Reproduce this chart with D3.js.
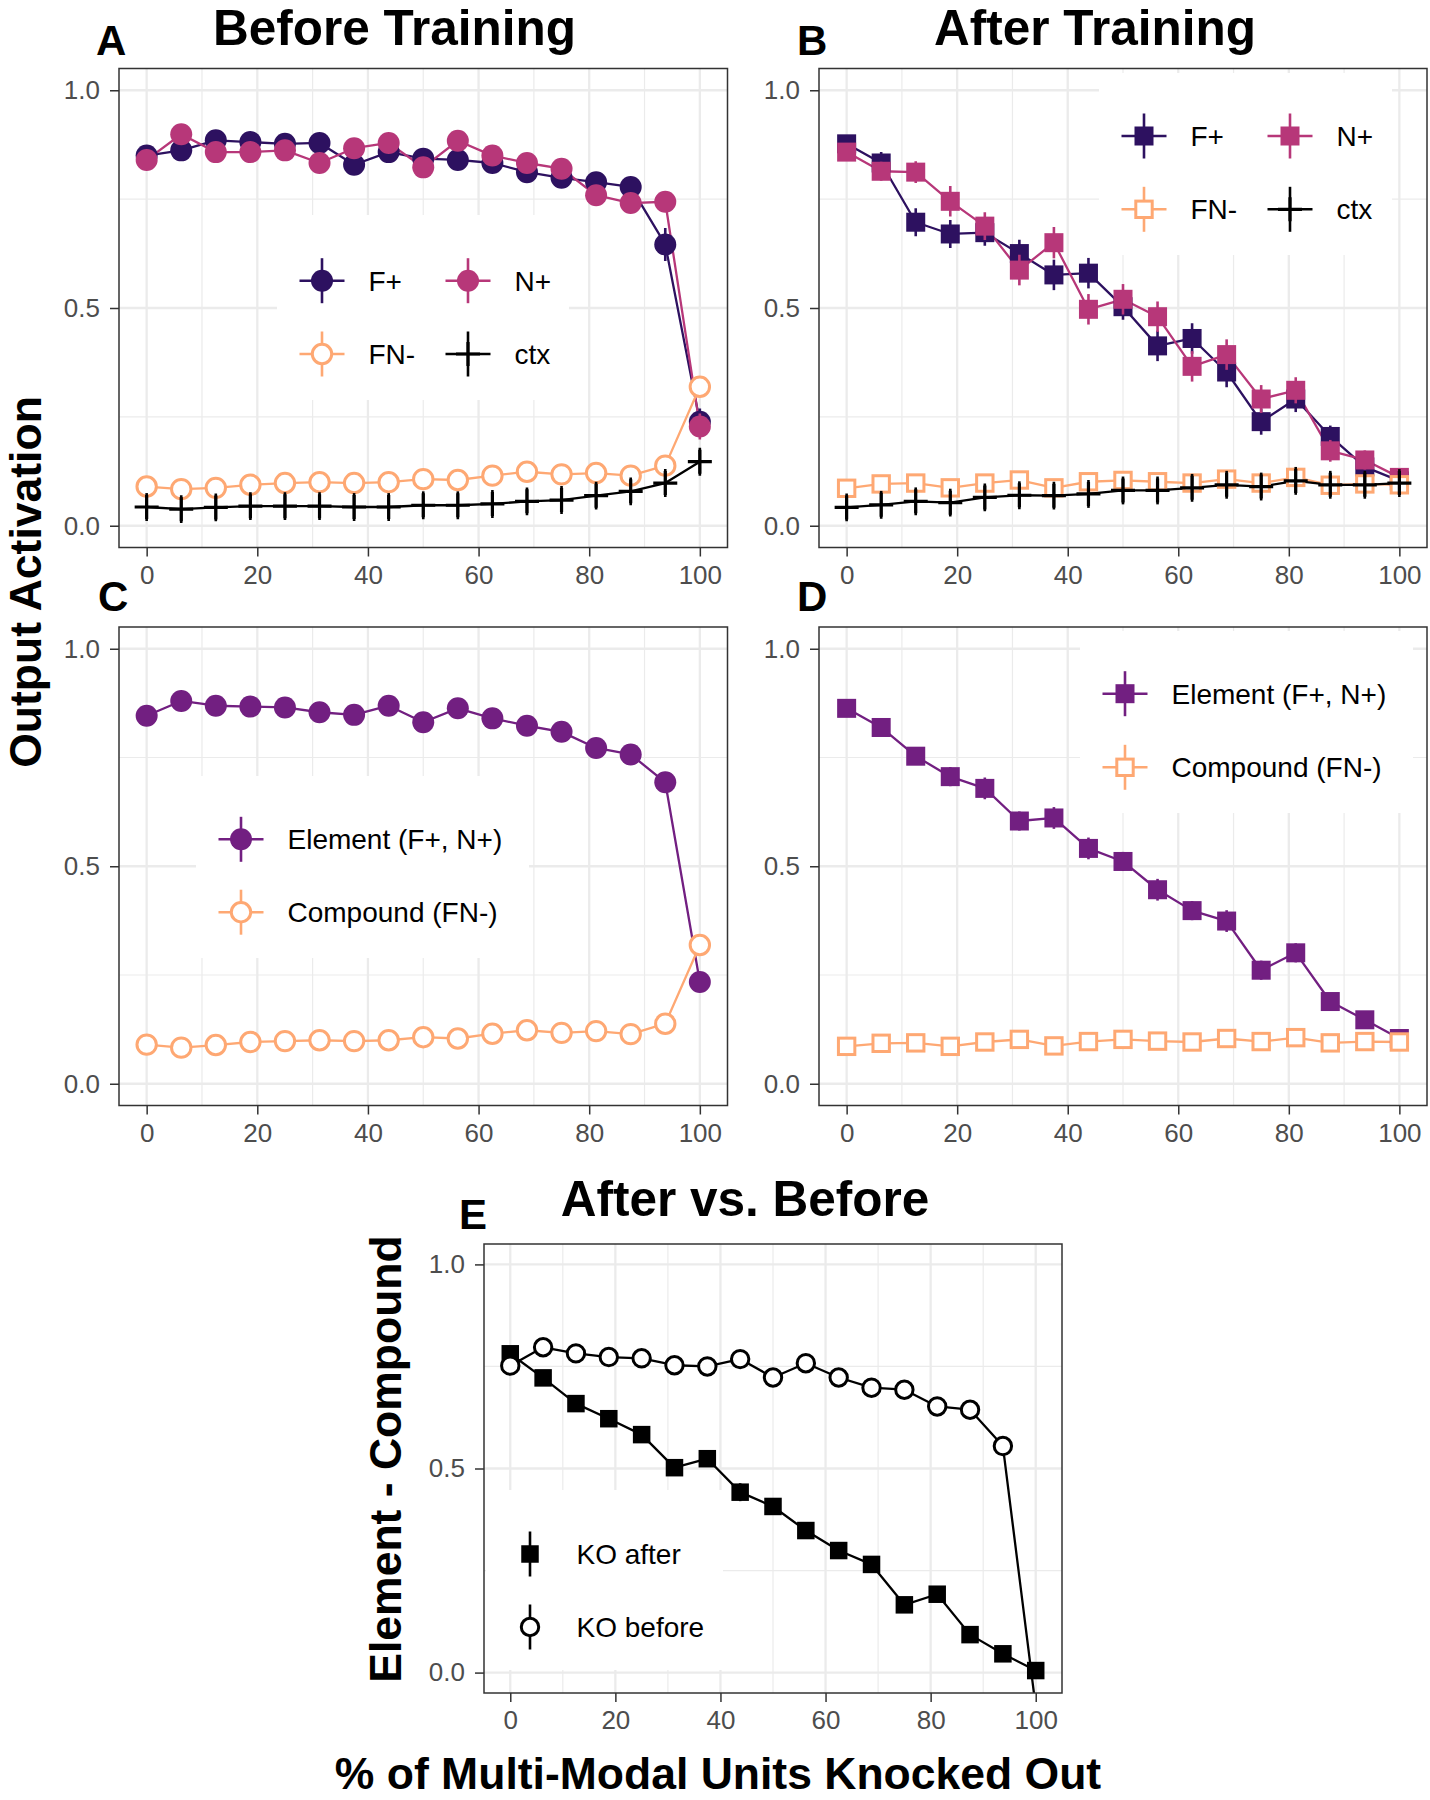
<!DOCTYPE html>
<html><head><meta charset="utf-8">
<script src="https://cdn.jsdelivr.net/npm/d3@7"></script>
<style>
html,body{margin:0;padding:0;background:#fff;}
svg{display:block;}
</style></head><body>
<svg id="chart" width="1430" height="1800"></svg>
<script>
// ---------- DATA ----------
const knockedOut = [0,6.25,12.5,18.75,25,31.25,37.5,43.75,50,56.25,62.5,68.75,75,81.25,87.5,93.75,100];
const xTicks = [0,20,40,60,80,100];
const yTicks = [0,0.5,1];
const yTickLabels = ["0.0","0.5","1.0"];

// Panel A: Before Training
const beforeF   = [0.850,0.862,0.885,0.881,0.877,0.879,0.829,0.858,0.843,0.840,0.833,0.812,0.799,0.789,0.778,0.646,0.239];
const beforeN   = [0.840,0.899,0.858,0.858,0.862,0.833,0.867,0.879,0.823,0.884,0.850,0.833,0.820,0.759,0.741,0.744,0.228];
const beforeFN  = [0.090,0.084,0.087,0.094,0.098,0.100,0.098,0.100,0.107,0.105,0.115,0.124,0.118,0.121,0.115,0.138,0.319];
const beforeCtx = [0.043,0.038,0.042,0.045,0.045,0.045,0.043,0.043,0.047,0.047,0.050,0.056,0.059,0.069,0.079,0.098,0.147];
const seBeforeF   = [0.015,0.015,0.014,0.014,0.015,0.015,0.016,0.015,0.016,0.016,0.017,0.018,0.018,0.020,0.020,0.038,0.030];
const seBeforeN   = [0.015,0.014,0.015,0.015,0.015,0.016,0.015,0.015,0.016,0.015,0.016,0.017,0.018,0.020,0.021,0.022,0.030];
const seBeforeFN  = [0.008,0.008,0.008,0.008,0.008,0.008,0.008,0.008,0.009,0.009,0.009,0.010,0.010,0.010,0.010,0.012,0.020];
const seBeforeCtx = [0.032,0.032,0.032,0.032,0.032,0.032,0.032,0.032,0.032,0.032,0.032,0.032,0.032,0.032,0.032,0.032,0.032];

// Panel B: After Training
const afterF   = [0.877,0.833,0.697,0.670,0.673,0.625,0.576,0.580,0.503,0.413,0.430,0.353,0.239,0.291,0.205,0.135,0.103];
const afterN   = [0.858,0.814,0.812,0.745,0.688,0.587,0.650,0.497,0.520,0.480,0.366,0.393,0.291,0.311,0.172,0.151,0.111];
const afterFN  = [0.086,0.096,0.098,0.087,0.098,0.105,0.087,0.101,0.104,0.101,0.098,0.107,0.098,0.111,0.093,0.096,0.094];
const afterCtx = [0.042,0.048,0.056,0.053,0.065,0.070,0.069,0.073,0.081,0.081,0.087,0.094,0.090,0.103,0.094,0.094,0.098];
const seAfterF   = [0.020,0.025,0.032,0.032,0.030,0.032,0.035,0.035,0.030,0.035,0.035,0.035,0.030,0.030,0.025,0.022,0.018];
const seAfterN   = [0.020,0.022,0.025,0.035,0.032,0.035,0.036,0.035,0.035,0.035,0.035,0.035,0.032,0.030,0.025,0.022,0.018];
const seAfterFN  = [0.010,0.010,0.010,0.010,0.010,0.010,0.010,0.010,0.010,0.010,0.010,0.010,0.010,0.010,0.010,0.010,0.010];
const seAfterCtx = [0.032,0.032,0.032,0.032,0.032,0.032,0.032,0.032,0.032,0.032,0.032,0.032,0.032,0.032,0.032,0.032,0.032];

// Panel C: Before Training, element vs compound
const elementBefore  = [0.846,0.880,0.869,0.867,0.865,0.854,0.848,0.869,0.831,0.863,0.840,0.823,0.809,0.772,0.757,0.693,0.234];
const compoundBefore = [0.090,0.083,0.089,0.096,0.098,0.100,0.098,0.100,0.107,0.104,0.115,0.123,0.117,0.121,0.114,0.138,0.319];
const seElementBefore  = [0.012,0.012,0.012,0.012,0.012,0.012,0.012,0.012,0.012,0.012,0.013,0.013,0.014,0.015,0.015,0.020,0.020];
const seCompoundBefore = [0.008,0.008,0.008,0.008,0.008,0.008,0.008,0.008,0.009,0.009,0.009,0.010,0.010,0.010,0.010,0.012,0.020];

// Panel D: After Training, element vs compound
const elementAfter  = [0.863,0.819,0.753,0.706,0.679,0.604,0.611,0.541,0.511,0.446,0.398,0.374,0.261,0.301,0.189,0.147,0.104];
const compoundAfter = [0.086,0.093,0.094,0.086,0.096,0.102,0.087,0.097,0.102,0.098,0.096,0.104,0.097,0.106,0.094,0.097,0.096];
const seElementAfter  = [0.015,0.018,0.020,0.022,0.025,0.022,0.025,0.025,0.022,0.025,0.022,0.025,0.022,0.022,0.018,0.015,0.012];
const seCompoundAfter = [0.008,0.008,0.008,0.008,0.008,0.008,0.008,0.008,0.008,0.008,0.008,0.008,0.008,0.008,0.008,0.008,0.008];

// Panel E: Element - Compound
const koAfter  = [0.781,0.722,0.659,0.622,0.583,0.502,0.524,0.442,0.407,0.348,0.299,0.265,0.166,0.192,0.093,0.046,0.005];
const koBefore = [0.752,0.797,0.782,0.773,0.770,0.753,0.750,0.768,0.723,0.758,0.723,0.698,0.693,0.652,0.644,0.555,-0.085];
const seKoAfter  = [0.015,0.015,0.015,0.015,0.018,0.015,0.018,0.022,0.018,0.018,0.015,0.015,0.015,0.015,0.012,0.012,0.010];
const seKoBefore = [0.012,0.012,0.012,0.012,0.012,0.012,0.012,0.012,0.012,0.012,0.012,0.012,0.012,0.012,0.012,0.015,0.020];

// ---------- STYLE / LAYOUT ----------
const FONT = '"Liberation Sans", Arial, Helvetica, sans-serif';
const C_F = "#2d1160", C_N = "#b73779", C_FN = "#fea873", C_CTX = "#000000", C_EL = "#721f81", C_BLK = "#000000";

const panels = [
  { id:"A", left:119, right:727.5, top:68.5, bottom:547.5, letter:"A", lx:96, ly:55,
    legend:{ box:[277,215,292,185], cols:[322,468], rows:[280.7,354], hline:true },
    series:[
      {name:"F+",  v:beforeF,  se:seBeforeF,  color:C_F,  shape:"circle", open:false},
      {name:"N+",  v:beforeN,  se:seBeforeN,  color:C_N,  shape:"circle", open:false},
      {name:"FN-", v:beforeFN, se:seBeforeFN, color:C_FN, shape:"circle", open:true},
      {name:"ctx", v:beforeCtx,se:seBeforeCtx,color:C_CTX,shape:"plus",   open:false}
    ], layout:"grid" },
  { id:"B", left:819, right:1427, top:68.5, bottom:547.5, letter:"B", lx:797, ly:55,
    legend:{ box:[1099,73,293,182], cols:[1144,1290], rows:[136,209.3], hline:true },
    series:[
      {name:"F+",  v:afterF,  se:seAfterF,  color:C_F,  shape:"square", open:false},
      {name:"N+",  v:afterN,  se:seAfterN,  color:C_N,  shape:"square", open:false},
      {name:"FN-", v:afterFN, se:seAfterFN, color:C_FN, shape:"square", open:true},
      {name:"ctx", v:afterCtx,se:seAfterCtx,color:C_CTX,shape:"plus",   open:false}
    ], layout:"grid" },
  { id:"C", left:119, right:727.5, top:627, bottom:1105.5, letter:"C", lx:98, ly:611,
    legend:{ box:[196,776,333,182], cols:[241], rows:[839.3,912.2], hline:true },
    series:[
      {name:"Element (F+, N+)", v:elementBefore,  se:seElementBefore,  color:C_EL, shape:"circle", open:false},
      {name:"Compound (FN-)",   v:compoundBefore, se:seCompoundBefore, color:C_FN, shape:"circle", open:true}
    ], layout:"col" },
  { id:"D", left:819, right:1427, top:627, bottom:1105.5, letter:"D", lx:797, ly:611,
    legend:{ box:[1080,631,333,182], cols:[1125], rows:[693.7,767.3], hline:true },
    series:[
      {name:"Element (F+, N+)", v:elementAfter,  se:seElementAfter,  color:C_EL, shape:"square", open:false},
      {name:"Compound (FN-)",   v:compoundAfter, se:seCompoundAfter, color:C_FN, shape:"square", open:true}
    ], layout:"col" },
  { id:"E", left:484, right:1062, top:1244, bottom:1693, letter:"E", lx:459, ly:1229, small:true,
    legend:{ box:[486,1490,237,180], cols:[530], rows:[1554,1627], hline:false },
    series:[
      {name:"KO after",  v:koAfter,  se:seKoAfter,  color:C_BLK, shape:"square", open:false},
      {name:"KO before", v:koBefore, se:seKoBefore, color:C_BLK, shape:"circle", open:true}
    ], layout:"col" }
];

const svg = d3.select("#chart");
svg.append("rect").attr("width",1430).attr("height",1800).attr("fill","#fff");

function drawMarker(sel, s, small) {
  const r = small ? 10 : 11;
  const sq = small ? 17.5 : 19;
  if (s.shape === "circle") {
    if (s.open) {
      sel.append("circle").attr("r", r - 1.3).attr("fill","#fff").attr("stroke", s.color).attr("stroke-width", 3);
    } else {
      sel.append("circle").attr("r", r).attr("fill", s.color);
    }
  } else if (s.shape === "square") {
    if (s.open) {
      const a = sq - 2.6;
      sel.append("rect").attr("x",-a/2).attr("y",-a/2).attr("width",a).attr("height",a)
        .attr("fill","#fff").attr("stroke", s.color).attr("stroke-width", 3);
    } else {
      sel.append("rect").attr("x",-sq/2).attr("y",-sq/2).attr("width",sq).attr("height",sq).attr("fill", s.color);
    }
  } else if (s.shape === "plus") {
    sel.append("path").attr("d","M-12,0H12M0,-12V12").attr("stroke", s.color).attr("stroke-width", 3.2).attr("fill","none");
  }
}

panels.forEach(p => {
  const x = d3.scaleLinear().domain([-5,105]).range([p.left, p.right]);
  const y = d3.scaleLinear().domain([-0.05,1.05]).range([p.bottom, p.top]);
  const g = svg.append("g");

  // grid
  const minorX = [10,30,50,70,90], minorY = [0.25,0.75];
  const grid = g.append("g");
  grid.selectAll(".mx").data(minorX).join("line")
    .attr("x1",d=>x(d)).attr("x2",d=>x(d)).attr("y1",p.top).attr("y2",p.bottom)
    .attr("stroke","#ebebeb").attr("stroke-width",1.2);
  grid.selectAll(".my").data(minorY).join("line")
    .attr("y1",d=>y(d)).attr("y2",d=>y(d)).attr("x1",p.left).attr("x2",p.right)
    .attr("stroke","#ebebeb").attr("stroke-width",1.2);
  grid.selectAll(".Mx").data(xTicks).join("line")
    .attr("x1",d=>x(d)).attr("x2",d=>x(d)).attr("y1",p.top).attr("y2",p.bottom)
    .attr("stroke","#ebebeb").attr("stroke-width",2.3);
  grid.selectAll(".My").data(yTicks).join("line")
    .attr("y1",d=>y(d)).attr("y2",d=>y(d)).attr("x1",p.left).attr("x2",p.right)
    .attr("stroke","#ebebeb").attr("stroke-width",2.3);

  // legend background (covers grid)
  const lb = p.legend.box;
  g.append("rect").attr("x",lb[0]).attr("y",lb[1]).attr("width",lb[2]).attr("height",lb[3]).attr("fill","#fff");

  // data
  const clipId = "clip" + p.id;
  svg.append("clipPath").attr("id", clipId).append("rect")
    .attr("x",p.left).attr("y",p.top).attr("width",p.right-p.left).attr("height",p.bottom-p.top);
  const dg = g.append("g").attr("clip-path",`url(#${clipId})`);
  const line = d3.line().x((d,i)=>x(knockedOut[i])).y(d=>y(d));
  p.series.forEach(s => {
    dg.append("path").datum(s.v).attr("d", line).attr("fill","none")
      .attr("stroke", s.color).attr("stroke-width", 2.3).attr("stroke-linejoin","round");
  });
  p.series.forEach(s => {
    const pts = dg.append("g").selectAll("g").data(s.v).join("g")
      .attr("transform",(d,i)=>`translate(${x(knockedOut[i])},${y(d)})`);
    pts.append("line").attr("x1",0).attr("x2",0)
      .attr("y1",(d,i)=>y(d - s.se[i]) - y(d)).attr("y2",(d,i)=>y(d + s.se[i]) - y(d))
      .attr("stroke", s.color).attr("stroke-width", 2.6);
    pts.each(function(){ drawMarker(d3.select(this), s, p.small); });
  });

  // border
  g.append("rect").attr("x",p.left).attr("y",p.top).attr("width",p.right-p.left).attr("height",p.bottom-p.top)
    .attr("fill","none").attr("stroke","#333333").attr("stroke-width",1.5);

  // axes
  const ax = g.append("g").attr("transform",`translate(0,${p.bottom})`)
    .call(d3.axisBottom(x).tickValues(xTicks).tickSize(9).tickPadding(9).tickFormat(d3.format("d")));
  const ay = g.append("g").attr("transform",`translate(${p.left},0)`)
    .call(d3.axisLeft(y).tickValues(yTicks).tickSize(9).tickPadding(10).tickFormat((d,i)=>yTickLabels[i]));
  [ax, ay].forEach(a => {
    a.select(".domain").remove();
    a.selectAll(".tick line").attr("stroke","#333333").attr("stroke-width",1.5);
    a.selectAll(".tick text").attr("fill","#4d4d4d").attr("font-size",26).attr("font-family",FONT);
  });

  // legend items
  p.series.forEach((s,i) => {
    let cx, cy;
    if (p.layout === "grid") { cx = p.legend.cols[i % 2]; cy = p.legend.rows[Math.floor(i/2)]; }
    else { cx = p.legend.cols[0]; cy = p.legend.rows[i]; }
    const k = g.append("g").attr("transform",`translate(${cx},${cy})`);
    if (p.legend.hline) k.append("line").attr("x1",-22.5).attr("x2",22.5).attr("y1",0).attr("y2",0)
      .attr("stroke", s.color).attr("stroke-width", 2.6);
    k.append("line").attr("x1",0).attr("x2",0).attr("y1",-22.5).attr("y2",22.5)
      .attr("stroke", s.color).attr("stroke-width", 2.6);
    drawMarker(k, s, p.small);
    g.append("text").attr("x", cx + 46.5).attr("y", cy).attr("dy","0.36em")
      .attr("font-family",FONT).attr("font-size",28).attr("fill","#000").text(s.name);
  });

  // panel letter
  g.append("text").attr("x",p.lx).attr("y",p.ly).attr("font-family",FONT).attr("font-weight","bold")
    .attr("font-size",42).attr("fill","#000").text(p.letter);
});

// titles
const titles = [
  {t:"Before Training", x:394.5, y:45},
  {t:"After Training",  x:1095,  y:45},
  {t:"After vs. Before", x:745,  y:1216}
];
svg.selectAll(".ttl").data(titles).join("text")
  .attr("x",d=>d.x).attr("y",d=>d.y).attr("text-anchor","middle")
  .attr("font-family",FONT).attr("font-weight","bold").attr("font-size",49.5).attr("fill","#000")
  .text(d=>d.t);

// axis titles
svg.append("text").attr("transform","translate(41,582) rotate(-90)").attr("text-anchor","middle")
  .attr("font-family",FONT).attr("font-weight","bold").attr("font-size",44.5).attr("fill","#000")
  .text("Output Activation");
svg.append("text").attr("transform","translate(401,1459) rotate(-90)").attr("text-anchor","middle")
  .attr("font-family",FONT).attr("font-weight","bold").attr("font-size",44.5).attr("fill","#000")
  .text("Element - Compound");
svg.append("text").attr("x",718).attr("y",1789).attr("text-anchor","middle")
  .attr("font-family",FONT).attr("font-weight","bold").attr("font-size",44.5).attr("fill","#000")
  .text("% of Multi-Modal Units Knocked Out");
</script>
</body></html>
